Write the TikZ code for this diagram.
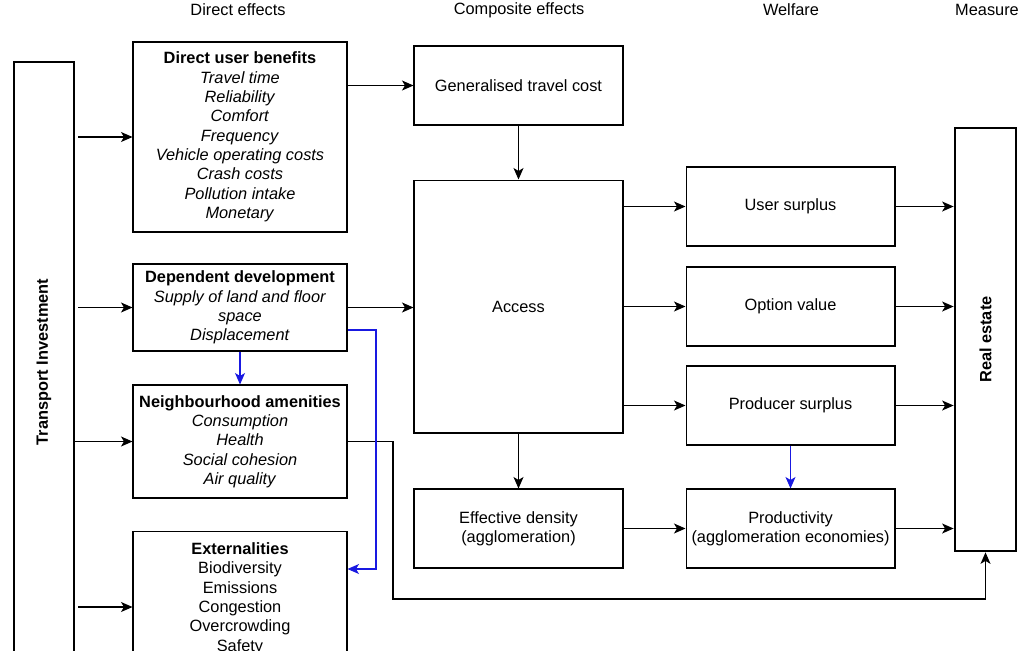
\documentclass[tikz,border=0pt]{standalone}
\usepackage{fontspec}
\setmainfont{Liberation Sans}
\usepackage{xcolor}
\usepackage{tikz}
\usetikzlibrary{arrows.meta}

\definecolor{linkblue}{RGB}{25,25,225}

\begin{document}
\begin{tikzpicture}[x=0.02cm, y=-0.02cm,
  font=\fontsize{9.3}{11}\selectfont,
  box/.style={draw, line width=0.6pt, align=center, inner sep=2pt,
    minimum width=4.18cm, minimum height=1.58cm},
  sidebox/.style={box, minimum width=4.28cm},
  bigbox/.style={draw, line width=1.6pt, align=center, inner sep=2pt},
  arr/.style={-{Stealth[length=2.3mm, width=2mm, inset=0.6mm]}, line width=0.6pt},
  bluearr/.style={arr, linkblue}]
  \useasboundingbox (0,0) rectangle (1024,650);

  % ---- column heads ----
  \node (hdirect)  at (238,10) {Direct effects};
  \node (hcomp)    at (519,10) {Composite effects};
  \node (hwelfare) at (791,10) {Welfare};
  \node (hmeasure) at (987,10) {Measure};

  % ---- investment and measure ----
  \node[bigbox, minimum width=1.2cm, minimum height=12cm] (tinv) at (44,362)
    {\rotatebox{90}{\textbf{Transport Investment}}};
  \node[bigbox, minimum width=1.22cm, minimum height=8.46cm] (rest) at (985.5,339.5)
    {\rotatebox{90}{\textbf{Real estate}}};

  % ---- direct effects ----
  \node[sidebox, minimum height=3.8cm] (dub) at (240,137)
    {\textbf{Direct user benefits}\\ \textit{Travel time}\\ \textit{Reliability}\\
     \textit{Comfort}\\ \textit{Frequency}\\ \textit{Vehicle operating costs}\\
     \textit{Crash costs}\\ \textit{Pollution intake}\\ \textit{Monetary}};
  \node[sidebox, minimum height=1.74cm] (ddev) at (240,307.5)
    {\textbf{Dependent development}\\ \textit{Supply of land and floor}\\
     \textit{space}\\ \textit{Displacement}};
  \node[sidebox, minimum height=2.26cm] (nam) at (240,441.5)
    {\textbf{Neighbourhood amenities}\\ \textit{Consumption}\\ \textit{Health}\\
     \textit{Social cohesion}\\ \textit{Air quality}};
  \node[sidebox, anchor=north, minimum height=2.68cm] (ext) at (240,531)
    {\textbf{Externalities}\\ Biodiversity\\ Emissions\\ Congestion\\
     Overcrowding\\ Safety};

  % ---- composite effects ----
  \node[box] (gtc) at (518.5,85.5) {Generalised travel cost};
  \node[box, minimum height=5.06cm] (access) at (518.5,306.5) {Access};
  \node[box] (effd) at (518.5,528.5) {Effective density\\ (agglomeration)};

  % ---- welfare ----
  \node[box] (usur) at (790.5,206.5) {User surplus};
  \node[box] (optv) at (790.5,306.5) {Option value};
  \node[box] (psur) at (790.5,405.5) {Producer surplus};
  \node[box] (prod) at (790.5,528.5) {Productivity\\ (agglomeration economies)};

  % ---- links ----
  \draw[arr, shorten <=0.06cm] (tinv.east |- dub.west) -- (dub.west);
  \draw[arr, shorten <=0.06cm] (tinv.east |- ddev.west) -- (ddev.west);
  \draw[arr] (tinv.east |- nam.west) -- (nam.west);
  \draw[arr, shorten <=0.06cm] (tinv.east |- 0,607) -- (ext.west |- 0,607);
  \draw[arr] (dub.east |- gtc.west) -- (gtc.west);
  \draw[arr] (gtc.south) -- (access.north);
  \draw[arr] (ddev.east) -- (access.west |- ddev.east);
  \draw[arr] (access.east |- usur.west) -- (usur.west);
  \draw[arr] (access.east |- optv.west) -- (optv.west);
  \draw[arr] (access.east |- psur.west) -- (psur.west);
  \draw[arr] (access.south) -- (effd.north);
  \draw[arr] (effd.east) -- (prod.west);
  \foreach \w in {usur, optv, psur, prod}
    \draw[arr] (\w.east) -- (rest.west |- \w.east);
  \draw[arr] (nam.east) -| (393,599) -| (rest.south);

  % ---- feedbacks (blue) ----
  \draw[bluearr] (ddev.south) -- (nam.north);
  \draw[bluearr] (ddev.east |- 0,330) -| (376,569) -- (ext.east |- 0,569);
  \draw[bluearr] (psur.south) -- (prod.north);
\end{tikzpicture}
\end{document}
